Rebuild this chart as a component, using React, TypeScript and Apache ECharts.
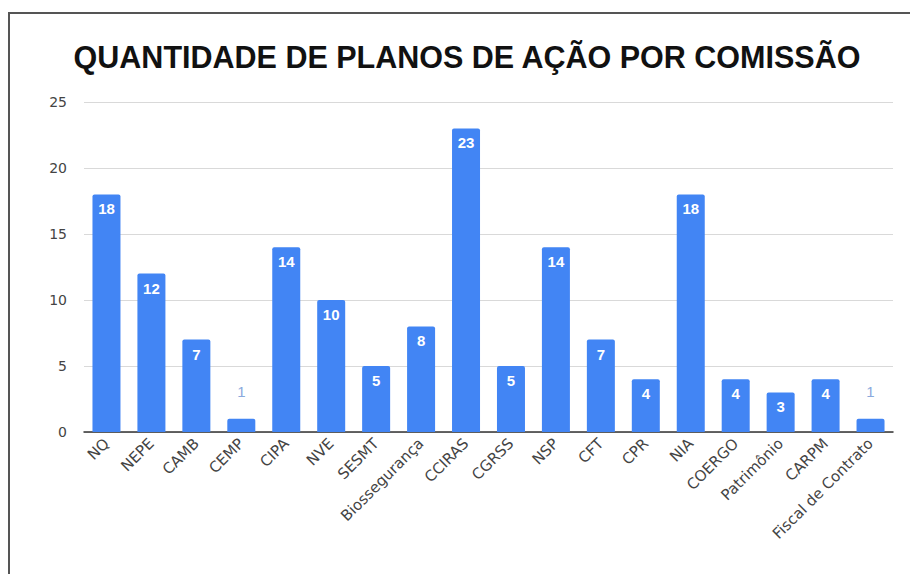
import React, { useEffect, useRef } from "react";
import * as echarts from "echarts";

const TITLE = "QUANTIDADE DE PLANOS DE AÇÃO POR COMISSÃO";
const categories = [
  "NQ", "NEPE", "CAMB", "CEMP", "CIPA", "NVE", "SESMT", "Biossegurança", "CCIRAS",
  "CGRSS", "NSP", "CFT", "CPR", "NIA", "COERGO", "Patrimônio", "CARPM", "Fiscal de Contrato",
];
const values = [18, 12, 7, 1, 14, 10, 5, 8, 23, 5, 14, 7, 4, 18, 4, 3, 4, 1];
const yTicks = { min: 0, max: 25, interval: 5 };

export default function App() {
  const ref = useRef<HTMLDivElement>(null);
  useEffect(() => {
    if (!ref.current) return;
    const chart = echarts.init(ref.current, null, { renderer: "svg" });
    const font = "'Liberation Sans', Arial, sans-serif";
    const wide = "'DejaVu Sans', sans-serif";
    chart.setOption({
      animation: false,
      backgroundColor: "#ffffff",
      title: {
        text: TITLE,
        left: 462,
        textAlign: "center",
        top: 36,
        textStyle: { fontFamily: font, fontWeight: "bold", fontSize: 30.5, color: "#111" },
      },
      graphic: [
        { type: "line", shape: { x1: 8, y1: 13, x2: 910, y2: 13 }, style: { stroke: "#555", lineWidth: 2 } },
        { type: "line", shape: { x1: 9, y1: 13, x2: 9, y2: 574 }, style: { stroke: "#555", lineWidth: 2 } },
      ],
      grid: { left: 84, right: 17, top: 102, bottom: 142 },
      xAxis: {
        type: "category",
        data: categories,
        axisTick: { show: false },
        axisLine: { lineStyle: { color: "#333", width: 1.5 } },
        axisLabel: {
          rotate: 45,
          interval: 0,
          fontFamily: wide,
          fontSize: 15,
          color: "#444",
          margin: 9,
        },
      },
      yAxis: {
        type: "value",
        min: yTicks.min,
        max: yTicks.max,
        interval: yTicks.interval,
        axisLine: { show: false },
        axisTick: { show: false },
        splitLine: { lineStyle: { color: "#d9d9d9" } },
        axisLabel: { fontFamily: wide, fontSize: 14, color: "#444", margin: 17 },
      },
      series: [
        {
          type: "bar",
          barWidth: 28,
          itemStyle: { color: "#4285f4", borderRadius: [2, 2, 0, 0] },
          label: {
            show: true,
            position: "insideTop",
            distance: 7,
            color: "#ffffff",
            fontFamily: font,
            fontSize: 15,
            fontWeight: "bold",
          },
          data: values.map((v) =>
            v < 2
              ? { value: v, label: { position: "top", distance: 20, color: "#8aa9dd", fontWeight: "normal" } }
              : v
          ),
        },
      ],
    });
    return () => chart.dispose();
  }, []);
  return (
    <div
      ref={ref}
      style={{ position: "absolute", left: 0, top: 0, width: 910, height: 574 }}
    />
  );
}
